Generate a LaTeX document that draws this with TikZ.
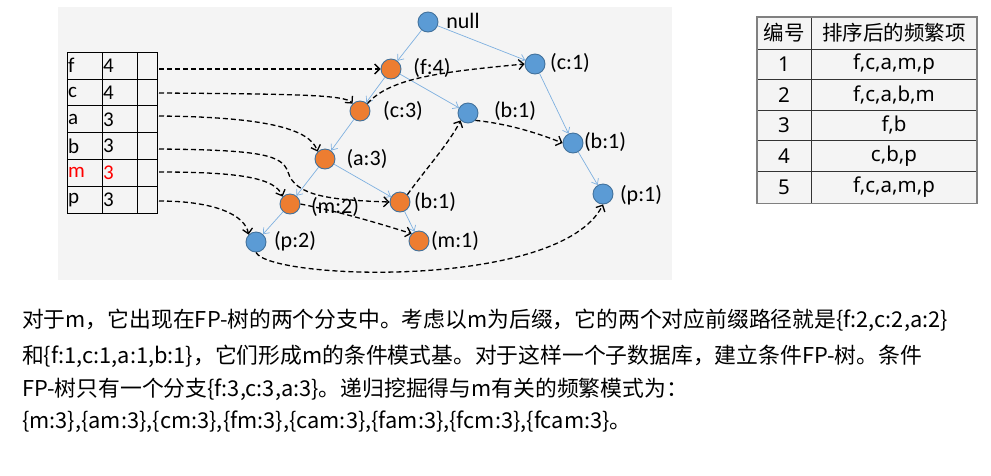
\documentclass[tikz,border=0pt]{standalone}
\usepackage{fontspec}
\setmainfont{Carlito}
\newfontfamily\cjk{Noto Sans CJK SC}
\newfontfamily\latn{Noto Sans}
\usetikzlibrary{arrows.meta}
\definecolor{nodeorange}{HTML}{ED7D31}
\definecolor{nodeblue}{HTML}{5B9BD5}
\definecolor{nodeborder}{HTML}{41719C}
\definecolor{treeblue}{HTML}{7EB0E0}
\definecolor{bggray}{HTML}{F4F4F4}
\tikzset{
  tn/.style={circle, draw=nodeborder, line width=0.9pt, minimum size=20pt, inner sep=0pt},
  on/.style={tn, fill=nodeorange},
  bn/.style={tn, fill=nodeblue},
  lab/.style={font=\fontsize{22}{24}\selectfont, inner sep=0pt},
  cell/.style={font=\fontsize{21}{24}\selectfont, inner sep=0pt, anchor=west},
  tcell/.style={font=\cjk\fontsize{20.5}{24}\selectfont, inner sep=0pt},
  lcell/.style={font=\latn\fontsize{20.5}{24}\selectfont, inner sep=0pt},
  tree/.style={draw=treeblue, line width=0.7pt, -{Straight Barb[length=5pt,width=8pt]}},
  lnk/.style={draw=black, line width=1.3pt, dash pattern=on 5pt off 3pt, -{Straight Barb[length=5pt,width=10pt]}},
  para/.style={font=\cjk\fontsize{21.8}{24}\selectfont, inner sep=0pt, anchor=west},
}
\begin{document}
\begin{tikzpicture}[x=1pt,y=-1pt]
\useasboundingbox (0,0) rectangle (991,475);
\fill[white] (0,0) rectangle (991,475);
% background panel
\fill[bggray] (58,7) rectangle (672,280);

% left table
\draw[line width=1pt] (67,52.3) rectangle (157,213.1);
\foreach \y in {79.1,105.9,132.7,159.5,186.3} \draw[line width=1pt] (67,\y) -- (157,\y);
\foreach \x in {102,137} \draw[line width=1pt] (\x,52.3) -- (\x,213.1);
\node[cell] (kf) at (68,65.7) {f};   \node[cell] (vf) at (103,65.7) {4};
\node[cell] (kc) at (68,92.5) {c};   \node[cell] (vc) at (103,92.5) {4};
\node[cell] (ka) at (68,119.3) {a};  \node[cell] (va) at (103,119.3) {3};
\node[cell] (kb) at (68,146.1) {b};  \node[cell] (vb) at (103,146.1) {3};
\node[cell,text=red] (km) at (68,172.9) {m}; \node[cell,text=red] (vm) at (103,172.9) {3};
\node[cell] (kp) at (68,199.7) {p};  \node[cell] (vp) at (103,199.7) {3};
\coordinate (rf) at (159,69);
\coordinate (rc) at (159,93);
\coordinate (ra) at (159,116);
\coordinate (rb) at (159,149);
\coordinate (rm) at (159,172);
\coordinate (rp) at (159,201);

% tree nodes
\node[bn] (null) at (428,22) {};
\node[on] (f4) at (391,69) {};
\node[bn] (c1) at (535,64) {};
\node[on] (c3) at (360,111) {};
\node[bn] (b1u) at (468,113) {};
\node[on] (a3) at (325,159) {};
\node[bn] (b1r) at (573,143) {};
\node[bn] (p1) at (603,194) {};
\node[on] (m2) at (290,204) {};
\node[on] (b1l) at (400,202) {};
\node[bn] (p2) at (256,242) {};
\node[on] (m1) at (419,241) {};

% labels
\node[lab] (lnull) at (463,21) {null};
\node[lab] (lf4) at (432,68) {(f:4)};
\node[lab] (lc1) at (570,63) {(c:1)};
\node[lab] (lc3) at (403,111) {(c:3)};
\node[lab] (lb1u) at (515,111) {(b:1)};
\node[lab] (la3) at (367,159) {(a:3)};
\node[lab] (lb1r) at (605,142) {(b:1)};
\node[lab] (lp1) at (641,195) {(p:1)};
\node[lab] (lm2) at (335,207) {(m:2)};
\node[lab] (lb1l) at (435,202) {(b:1)};
\node[lab] (lp2) at (295,241) {(p:2)};
\node[lab] (lm1) at (455,241) {(m:1)};

% tree edges
\draw[tree] (null) -- (f4);
\draw[tree] (null) -- (c1);
\draw[tree] (f4) -- (c3);
\draw[tree] (f4) -- (b1u);
\draw[tree] (c3) -- (a3);
\draw[tree] (a3) -- (m2);
\draw[tree] (a3) -- (b1l);
\draw[tree] (m2) -- (p2);
\draw[tree] (b1l) -- (m1);
\draw[tree] (c1) -- (b1r);
\draw[tree] (b1r) -- (p1);

% header table links
\draw[lnk] (rf) -- (f4.west);
\draw[lnk] (rc) .. controls (300,94) and (345,95) .. (c3.north west);
\draw[lnk] (ra) .. controls (270,117) and (310,130) .. (a3.north west);
\draw[lnk] (rb) .. controls (262,150) and (282,155) .. (288,172) .. controls (295,196) and (330,200) .. (b1l.west);
\draw[lnk] (rm) .. controls (240,172) and (275,178) .. (m2.north west);
\draw[lnk] (rp) .. controls (215,201) and (245,215) .. (p2.north west);

% node links
\draw[lnk] (m2.east) .. controls (350,214) and (390,227) .. (m1.north west);
\draw[lnk] (b1l.north east) .. controls (425,170) and (450,142) .. (b1u.south west);
\draw[lnk] (b1u.south east) .. controls (510,124) and (540,134) .. (b1r.west);
\draw[lnk] (c3.north east) .. controls (390,78) and (440,72) .. (c1.west);
\draw[lnk] (p2.south) .. controls (270,280) and (560,290) .. (p1.south);

% right table
\fill[bggray] (757,16.7) rectangle (977,203.3);
\foreach \y in {49.3,79.3,110,140.7,171.7} \draw[line width=1pt, black!80] (757,\y) -- (977,\y);
\draw[line width=1pt, black!80] (811,16.7) -- (811,203.3);
\draw[line width=1.6pt, gray] (757,16.7) rectangle (977,203.3);
\node[tcell] (h1) at (784,33) {编号};
\node[tcell] (h2) at (894,33) {排序后的频繁项};
\node[lcell] (n1) at (784,64.3) {1}; \node[lcell] (s1) at (894,64.3) {f,c,a,m,p};
\node[lcell] (n2) at (784,94.7) {2}; \node[lcell] (s2) at (894,94.7) {f,c,a,b,m};
\node[lcell] (n3) at (784,125.3) {3}; \node[lcell] (s3) at (894,125.3) {f,b};
\node[lcell] (n4) at (784,156.2) {4}; \node[lcell] (s4) at (894,156.2) {c,b,p};
\node[lcell] (n5) at (784,187.5) {5}; \node[lcell] (s5) at (894,187.5) {f,c,a,m,p};

% paragraph
\node[para] (t1) at (22,320) {对于m，它出现在FP-树的两个分支中。考虑以m为后缀，它的两个对应前缀路径就是\{f:2,c:2,a:2\}};
\node[para] (t2) at (22,356) {和\{f:1,c:1,a:1,b:1\}，它们形成m的条件模式基。对于这样一个子数据库，建立条件FP-树。条件};
\node[para] (t3) at (22,389) {FP-树只有一个分支\{f:3,c:3,a:3\}。递归挖掘得与m有关的频繁模式为：};
\node[para] (t4) at (22,422) {\{m:3\},\{am:3\},\{cm:3\},\{fm:3\},\{cam:3\},\{fam:3\},\{fcm:3\},\{fcam:3\}。};
\end{tikzpicture}
\end{document}
